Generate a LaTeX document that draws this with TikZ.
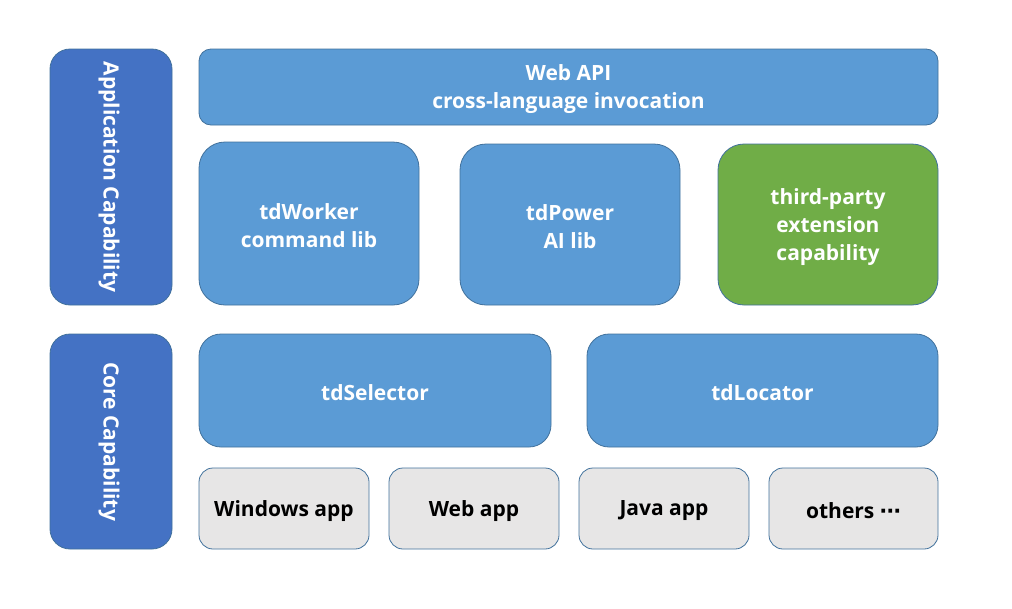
\documentclass[tikz,border=0pt]{standalone}
\usepackage{fontspec}
\setmainfont{Open Sans}[BoldFont={* Bold}]
\newfontfamily\symfont{DejaVu Sans}
\begin{document}
\begin{tikzpicture}[x=1pt,y=-1pt,
  base/.style={draw=bordc, line width=0.8pt},
  side/.style={base, fill=sideblue},
  blue/.style={base, fill=boxblue},
  green/.style={base, fill=boxgreen},
  app/.style={base, fill=appgray},
  wtxt/.style={text=white, font=\fontsize{21}{28}\selectfont\bfseries, align=center, inner sep=0pt},
  btxt/.style={text=black, font=\fontsize{21}{28}\selectfont\bfseries, align=center, inner sep=0pt}
]
\definecolor{sideblue}{HTML}{4472C4}
\definecolor{boxblue}{HTML}{5B9BD5}
\definecolor{boxgreen}{HTML}{70AD47}
\definecolor{appgray}{HTML}{E7E6E6}
\definecolor{bordc}{HTML}{41719C}
\useasboundingbox (0,0) rectangle (1012,608);
% boxes
\draw[side, rounded corners=20pt] (50,49) rectangle (172,305);
\node[wtxt, rotate=-90] (appcap) at (109,177) {Application Capability};
\draw[side, rounded corners=20pt] (50,334) rectangle (172,549);
\node[wtxt, rotate=-90] (corecap) at (109,441.5) {Core Capability};

\draw[blue, rounded corners=12pt] (199,49) rectangle (938,125);
\node[wtxt] (webapi) at (568.5,89) {Web API\\cross-language invocation};

\draw[blue, rounded corners=26pt] (199,142) rectangle (419,305);
\node[wtxt] (worker) at (309,226) {tdWorker\\command lib};
\draw[blue, rounded corners=26pt] (460,144) rectangle (680,305);
\node[wtxt] (power) at (570,227) {tdPower\\AI lib};
\draw[green, rounded corners=26pt] (718,144) rectangle (938,305);
\node[wtxt] (third) at (828,227) {third-party\\extension\\capability};

\draw[blue, rounded corners=22pt] (199,334) rectangle (551,447);
\node[wtxt] (sel) at (375,393) {tdSelector};
\draw[blue, rounded corners=22pt] (587,334) rectangle (938,447);
\node[wtxt] (loc) at (762.5,393) {tdLocator};

\draw[app, rounded corners=14pt] (199,468) rectangle (369,549);
\node[btxt] (win) at (284,511) {Windows app};
\draw[app, rounded corners=14pt] (389,468) rectangle (559,549);
\node[btxt] (web) at (474,511) {Web app};
\draw[app, rounded corners=14pt] (579,468) rectangle (749,549);
\node[btxt] (java) at (664,511) {Java app};
\draw[app, rounded corners=14pt] (769,468) rectangle (938,549);
\node[btxt] (others) at (853.5,511) {others {\symfont\bfseries ⋯}};
\end{tikzpicture}
\end{document}
